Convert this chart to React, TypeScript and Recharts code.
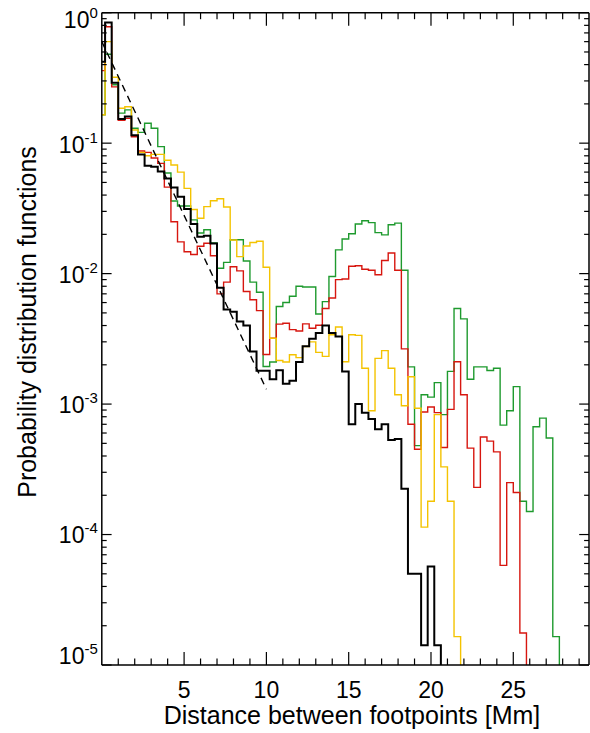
import { LineChart, Line, XAxis, YAxis } from 'recharts'

const FONT = "'Liberation Sans', Arial, Helvetica, sans-serif"

// chart geometry
const W = 590
const H = 733
const PLOT = { left: 101.8, right: 589, top: 12.7, bottom: 665 }
// axes must have a non-zero thickness to be drawn; keep it negligible
const THIN = 0.001

// histogram bin centres [Mm]
const binCenters = [
  0, 0.4, 0.8, 1.2, 1.6, 2, 2.4, 2.8, 3.2, 3.6, 4, 4.4, 4.8, 5.2, 5.6, 6, 6.4, 6.8, 7.2, 7.6,
  8, 8.4, 8.8, 9.2, 9.6, 10, 10.4, 10.8, 11.2, 11.6, 12, 12.4, 12.8, 13.2, 13.6, 14, 14.4, 14.8,
  15.2, 15.6, 16, 16.4, 16.8, 17.2, 17.6, 18, 18.4, 18.8, 19.2, 19.6, 20, 20.4, 20.8, 21.2, 21.6,
  22, 22.4, 22.8, 23.2, 23.6, 24, 24.4, 24.8, 25.2, 25.6, 26, 26.4, 26.8, 27.2, 27.6, 28,
]

// probability distribution per bin (0 = empty bin)
const blackPdf = [
  0.42, 0.84, 0.29, 0.153, 0.16, 0.115, 0.082, 0.067, 0.066, 0.0606, 0.0537, 0.0458, 0.0389, 0.0313,
  0.024, 0.0192, 0.0195, 0.017, 0.0078, 0.0053, 0.0051, 0.0043, 0.004, 0.00253, 0.0018, 0.0018,
  0.00155, 0.00182, 0.00143, 0.00151, 0.0021, 0.00278, 0.00317, 0.0035, 0.004, 0.0035, 0.0033,
  0.00178, 0.0007, 0.001, 0.00086, 0.00077, 0.00064, 0.0007, 0.00053, 0.00054, 0.000224, 0.00005,
  0.00005, 0.0000142, 0.000057, 0.0000142, 0,
]

const redPdf = [
  0.36, 0.78, 0.27, 0.15, 0.155, 0.112, 0.087, 0.085, 0.077, 0.07, 0.046, 0.025, 0.0175, 0.0147,
  0.014, 0.0162, 0.0171, 0.0137, 0.007, 0.0086, 0.0113, 0.0105, 0.0073, 0.0063, 0.0052, 0.0024,
  0.0032, 0.0041, 0.00416, 0.00372, 0.00363, 0.00412, 0.00381, 0.00402, 0.0054, 0.0065, 0.009,
  0.0091, 0.0114, 0.0115, 0.0108, 0.0106, 0.0098, 0.0126, 0.0144, 0.0106, 0.00265, 0.0007, 0.00045,
  0.00087, 0.00095, 0.00086, 0.000465, 0.00091, 0.00211, 0.00118, 0.00046, 0.00023, 0.00056,
  0.00052, 0.00043, 0.000058, 0.00025, 0.00021, 0.0000176, 0,
]

const yellowPdf = [
  0.165, 0.6, 0.32, 0.185, 0.19, 0.126, 0.085, 0.08, 0.082, 0.082, 0.074, 0.068, 0.06, 0.045,
  0.031, 0.0266, 0.0326, 0.0362, 0.0375, 0.0324, 0.0181, 0.0135, 0.0163, 0.0173, 0.0177, 0.0112,
  0.0032, 0.00216, 0.0021, 0.00239, 0.00227, 0.00276, 0.003, 0.00249, 0.00232, 0.0034, 0.0039,
  0.00211, 0.0034, 0.00336, 0.00188, 0.00089, 0.00224, 0.00257, 0.00188, 0.00118, 0.00097,
  0.00162, 0.00093, 0.000114, 0.00018, 0.00083, 0.00033, 0.00018, 0.0000165, 0,
]

const greenPdf = [
  0.165, 0.48, 0.28, 0.17, 0.18, 0.13, 0.121, 0.142, 0.13, 0.094, 0.059, 0.036, 0.033, 0.033,
  0.0258, 0.0205, 0.0217, 0.0172, 0.011, 0.0122, 0.0182, 0.0182, 0.0125, 0.0086, 0.0072, 0.00194,
  0.0021, 0.0056, 0.006, 0.0067, 0.008, 0.0079, 0.0079, 0.0049, 0.0061, 0.0095, 0.0152, 0.0184,
  0.0202, 0.024, 0.0254, 0.0246, 0.0206, 0.0198, 0.0237, 0.0244, 0.0106, 0.00193, 0.00048, 0.00118,
  0.00113, 0.00146, 0.00083, 0.00178, 0.0054, 0.0045, 0.00155, 0.00193, 0.00193, 0.00181, 0.00188,
  0.00069, 0.00089, 0.00136, 0.00018, 0.00015, 0.00067, 0.00078, 0.00055, 0.0000165, 0,
]

// exponential fit (dashed)
const fitX = [0, 10]
const fitY = [0.6, 0.0013]

// ticks
const xLabelTicks = [5, 10, 15, 20, 25]
const xMinorTicks = [1, 2, 3, 4, 6, 7, 8, 9, 11, 12, 13, 14, 16, 17, 18, 19, 21, 22, 23, 24, 26, 27, 28, 29]
const yMajorTicks = [1e-5, 1e-4, 1e-3, 1e-2, 1e-1, 1]
// vertical nudge of each decade label, as in the original figure
const yLabelNudge = [-1, 8, 9, 9, 10, 15]
const yMinorSteps = [2, 3, 4, 5, 6, 7, 8, 9]
const yMinorTicks = yMajorTicks.slice(0, -1).flatMap((d) => yMinorSteps.map((m) => m * d))

const X_DOMAIN: [number, number] = [0, 29.6]
const Y_DOMAIN: [number, number] = [1e-5, 1]

// empty bins are drawn below the axis so the step falls off the plot
const EMPTY = 1e-8
const pick = (arr: number[], i: number) => (i < arr.length ? (arr[i] > 0 ? arr[i] : EMPTY) : null)

const rows = binCenters.map((x, i) => {
  const f = fitX.indexOf(x)
  return {
    x,
    black: pick(blackPdf, i),
    red: pick(redPdf, i),
    yellow: pick(yellowPdf, i),
    green: pick(greenPdf, i),
    fit: f >= 0 ? fitY[f] : null,
  }
})

const frame = { stroke: '#000', strokeWidth: 1.5 }
const tickStroke = { stroke: '#000', strokeWidth: 1.2 }

const NoLabel = () => <g />

const PowerTick = ({ x, y, payload, index }: any) => {
  const exp = Math.round(Math.log10(payload.value))
  const nudge = yLabelNudge[index] ?? 8
  return (
    <text x={x} y={y + nudge} textAnchor="end" fontSize={23} fontFamily={FONT} fill="#000">
      10
      <tspan dy={-10} fontSize={15}>
        {exp}
      </tspan>
    </text>
  )
}

const XTitle = () => (
  <text x={352} y={724} textAnchor="middle" fontSize={25} fontFamily={FONT} fill="#000">
    Distance between footpoints [Mm]
  </text>
)

const YTitle = () => (
  <text
    x={36}
    y={322}
    transform="rotate(-90 36 322)"
    textAnchor="middle"
    fontSize={25}
    fontFamily={FONT}
    fill="#000"
  >
    Probability distribution functions
  </text>
)

export default function App() {
  return (
    <div style={{ position: 'absolute', left: 0, top: 0, background: '#fff' }}>
      <LineChart
        width={W}
        height={H}
        data={rows}
        margin={{ top: PLOT.top, right: W - PLOT.right, bottom: H - PLOT.bottom, left: PLOT.left }}
      >
        {/* bottom axis with labels */}
        <XAxis
          xAxisId="x"
          dataKey="x"
          type="number"
          domain={X_DOMAIN}
          allowDataOverflow
          ticks={xLabelTicks}
          interval={0}
          height={THIN}
          tickLine={false}
          tickSize={0}
          tickMargin={17}
          axisLine={frame}
          tick={{ fontSize: 23, fill: '#000', fontFamily: FONT }}
          label={<XTitle />}
        />
        {/* inward tick marks, bottom and top */}
        <XAxis xAxisId="xb1" dataKey="x" type="number" domain={X_DOMAIN} allowDataOverflow mirror
          ticks={xLabelTicks} interval={0} height={THIN} tickSize={13} tick={<NoLabel />} axisLine={false} tickLine={tickStroke} />
        <XAxis xAxisId="xb2" dataKey="x" type="number" domain={X_DOMAIN} allowDataOverflow mirror
          ticks={xMinorTicks} interval={0} height={THIN} tickSize={6.5} tick={<NoLabel />} axisLine={false} tickLine={tickStroke} />
        <XAxis xAxisId="xt1" dataKey="x" type="number" orientation="top" domain={X_DOMAIN} allowDataOverflow mirror
          ticks={xLabelTicks} interval={0} height={THIN} tickSize={13} tick={<NoLabel />} axisLine={frame} tickLine={tickStroke} />
        <XAxis xAxisId="xt2" dataKey="x" type="number" orientation="top" domain={X_DOMAIN} allowDataOverflow mirror
          ticks={xMinorTicks} interval={0} height={THIN} tickSize={6.5} tick={<NoLabel />} axisLine={false} tickLine={tickStroke} />

        {/* left axis with labels */}
        <YAxis
          yAxisId="y"
          type="number"
          scale="log"
          domain={Y_DOMAIN}
          allowDataOverflow
          ticks={yMajorTicks}
          interval={0}
          width={THIN}
          tickLine={false}
          tickSize={0}
          tickMargin={4}
          axisLine={frame}
          tick={<PowerTick />}
          label={<YTitle />}
        />
        <YAxis yAxisId="yl1" type="number" scale="log" domain={Y_DOMAIN} allowDataOverflow mirror
          ticks={yMajorTicks} interval={0} width={THIN} tickSize={9.8} tick={<NoLabel />} axisLine={false} tickLine={tickStroke} />
        <YAxis yAxisId="yl2" type="number" scale="log" domain={Y_DOMAIN} allowDataOverflow mirror
          ticks={yMinorTicks} interval={0} width={THIN} tickSize={4.9} tick={<NoLabel />} axisLine={false} tickLine={tickStroke} />
        <YAxis yAxisId="yr1" type="number" scale="log" orientation="right" domain={Y_DOMAIN} allowDataOverflow mirror
          ticks={yMajorTicks} interval={0} width={THIN} tickSize={9.8} tick={<NoLabel />} axisLine={frame} tickLine={tickStroke} />
        <YAxis yAxisId="yr2" type="number" scale="log" orientation="right" domain={Y_DOMAIN} allowDataOverflow mirror
          ticks={yMinorTicks} interval={0} width={THIN} tickSize={4.9} tick={<NoLabel />} axisLine={false} tickLine={tickStroke} />

        <Line xAxisId="x" yAxisId="y" dataKey="green" type="step" stroke="#1e9a2e" strokeWidth={1.4} dot={false} isAnimationActive={false} />
        <Line xAxisId="x" yAxisId="y" dataKey="red" type="step" stroke="#d7160f" strokeWidth={1.4} dot={false} isAnimationActive={false} />
        <Line xAxisId="x" yAxisId="y" dataKey="yellow" type="step" stroke="#f4c300" strokeWidth={1.4} dot={false} isAnimationActive={false} />
        <Line xAxisId="x" yAxisId="y" dataKey="black" type="step" stroke="#000" strokeWidth={2} dot={false} isAnimationActive={false} />
        <Line xAxisId="x" yAxisId="y" dataKey="fit" type="linear" stroke="#000" strokeWidth={1.4} strokeDasharray="7 5"
          connectNulls dot={false} isAnimationActive={false} />
      </LineChart>
    </div>
  )
}
